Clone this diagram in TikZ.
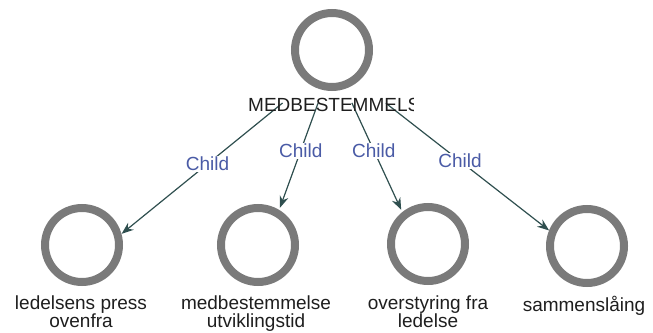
\documentclass[tikz,border=0pt]{standalone}
\usepackage{fontspec}
\setmainfont{Liberation Sans}
\usetikzlibrary{arrows.meta}
\definecolor{ring-gray}{HTML}{7A7A7A}
\definecolor{link-slate}{HTML}{2F4F4F}
\definecolor{rel-blue}{HTML}{4A5BA6}
\definecolor{label-ink}{HTML}{1E1E1E}

\begin{document}
\begin{tikzpicture}[x=1pt, y=-1pt,
    concept/.style={draw=ring-gray, line width=8pt, circle, minimum size=74pt, inner sep=0pt},
    caption/.style={font=\fontsize{19}{18}\selectfont, text=label-ink, align=center,
                    inner sep=0pt, anchor=north},
    link/.style={draw=link-slate, line width=1.2pt, -{Stealth[length=12pt, width=9pt]}},
    rel/.style={font=\fontsize{19}{19}\selectfont, text=rel-blue, fill=white, inner sep=1pt}]
    \useasboundingbox (0,0) rectangle (653,332);

    % middle of each circle together with its caption
    \coordinate (hub) at (333,62);
    \coordinate (g1) at (82,266);
    \coordinate (g2) at (258,268);
    \coordinate (g3) at (428,268);
    \coordinate (g4) at (587,260);

    \draw[link, shorten <=65pt, shorten >=51pt] (hub) -- node[rel, pos=0.5] (r1) {Child} (g1);
    \draw[link, shorten <=44pt, shorten >=64pt] (hub) -- node[rel, pos=0.43] (r2) {Child} (g2);
    \draw[link, shorten <=45pt, shorten >=64pt] (hub) -- node[rel, pos=0.43] (r3) {Child} (g3);
    \draw[link, shorten <=67pt, shorten >=48pt] (hub) -- node[rel, pos=0.5] (r4) {Child} (g4);

    \node[concept] (medb) at (332,50) {};
    \begin{scope}
      \clip (240,88) rectangle (413,120);
      \node[font=\fontsize{19}{18}\selectfont, text=label-ink, anchor=base west,
            inner sep=0pt] (medbname) at (248,111) {MEDBESTEMMELS};
    \end{scope}

    \node[concept] (press) at (82,245) {};
    \node[caption] (pressname) at (81,296) {ledelsens press\\ovenfra};
    \node[concept] (utvikling) at (258,245) {};
    \node[caption] (utviklingname) at (256,296) {medbestemmelse\\utviklingstid};
    \node[concept] (overstyring) at (428,244) {};
    \node[caption] (overstyringname) at (428,296) {overstyring fra\\ledelse};
    \node[concept] (sammen) at (587,246) {};
    \node[caption] (sammenname) at (584,296) {sammenslåing};
\end{tikzpicture}
\end{document}
